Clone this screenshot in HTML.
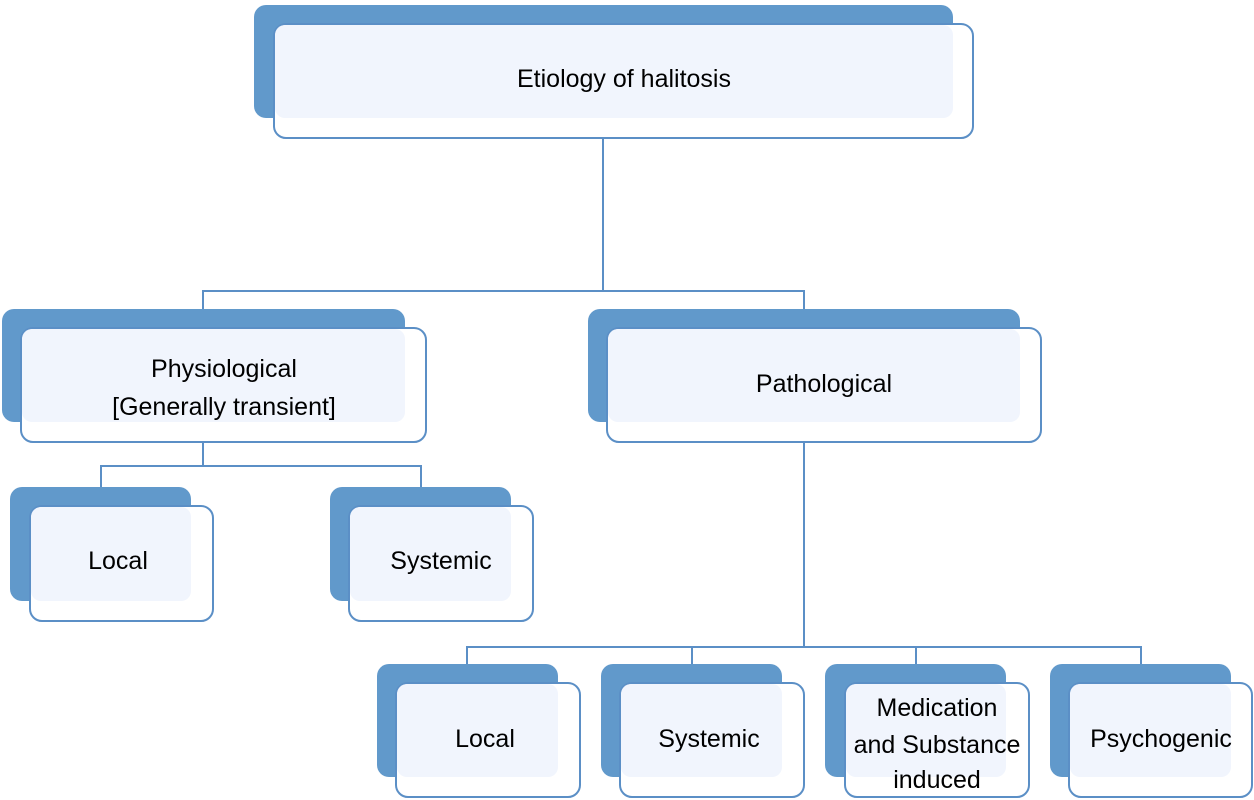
<!DOCTYPE html>
<html><head><meta charset="utf-8"><style>
html,body{margin:0;padding:0;background:#fff;}
svg{display:block;}
text{font-family:"Liberation Sans",sans-serif;font-size:25px;fill:#000;text-anchor:middle;}
</style></head><body>
<svg width="1254" height="800" viewBox="0 0 1254 800" xmlns="http://www.w3.org/2000/svg">
<g stroke="#5b8fc6" stroke-width="2" fill="none">
<path d="M603 138V291M203 309V291H804V309"/>
<path d="M203 442V466M101 487V466H421V487"/>
<path d="M804 442V647M467 664V647H1141V664M692 647V664M916 647V664"/>
</g>
<!-- node helper: dark rect, white front rect, light overlay -->
<g id="n1">
<rect x="254" y="5" width="699" height="113" rx="12" fill="#6199cb"/>
<rect x="274" y="24" width="699" height="114" rx="12" fill="#fff" stroke="#5b8fc6" stroke-width="2"/>
<rect x="275" y="25" width="678" height="93" rx="10" fill="#f1f5fd"/>
<text x="624" y="87">Etiology of halitosis</text>
</g>
<g>
<rect x="2" y="309" width="403" height="113" rx="12" fill="#6199cb"/>
<rect x="21" y="328" width="405" height="114" rx="12" fill="#fff" stroke="#5b8fc6" stroke-width="2"/>
<rect x="22" y="329" width="383" height="93" rx="10" fill="#f1f5fd"/>
<text x="224" y="377">Physiological</text>
<text x="224" y="415">[Generally transient]</text>
</g>
<g>
<rect x="588" y="309" width="432" height="113" rx="12" fill="#6199cb"/>
<rect x="607" y="328" width="434" height="114" rx="12" fill="#fff" stroke="#5b8fc6" stroke-width="2"/>
<rect x="608" y="329" width="412" height="93" rx="10" fill="#f1f5fd"/>
<text x="824" y="392">Pathological</text>
</g>
<g>
<rect x="10" y="487" width="181" height="114" rx="12" fill="#6199cb"/>
<rect x="30" y="506" width="183" height="115" rx="12" fill="#fff" stroke="#5b8fc6" stroke-width="2"/>
<rect x="31" y="507" width="160" height="94" rx="10" fill="#f1f5fd"/>
<text x="118" y="569">Local</text>
</g>
<g>
<rect x="330" y="487" width="181" height="114" rx="12" fill="#6199cb"/>
<rect x="349" y="506" width="184" height="115" rx="12" fill="#fff" stroke="#5b8fc6" stroke-width="2"/>
<rect x="350" y="507" width="161" height="94" rx="10" fill="#f1f5fd"/>
<text x="441" y="569">Systemic</text>
</g>
<g>
<rect x="377" y="664" width="181" height="113" rx="12" fill="#6199cb"/>
<rect x="396" y="683" width="184" height="114" rx="12" fill="#fff" stroke="#5b8fc6" stroke-width="2"/>
<rect x="397" y="684" width="161" height="93" rx="10" fill="#f1f5fd"/>
<text x="485" y="747">Local</text>
</g>
<g>
<rect x="601" y="664" width="181" height="113" rx="12" fill="#6199cb"/>
<rect x="620" y="683" width="184" height="114" rx="12" fill="#fff" stroke="#5b8fc6" stroke-width="2"/>
<rect x="621" y="684" width="161" height="93" rx="10" fill="#f1f5fd"/>
<text x="709" y="747">Systemic</text>
</g>
<g>
<rect x="825" y="664" width="181" height="113" rx="12" fill="#6199cb"/>
<rect x="845" y="683" width="184" height="114" rx="12" fill="#fff" stroke="#5b8fc6" stroke-width="2"/>
<rect x="846" y="684" width="160" height="93" rx="10" fill="#f1f5fd"/>
<text x="937" y="716">Medication</text>
<text x="937" y="753">and Substance</text>
<text x="937" y="788">induced</text>
</g>
<g>
<rect x="1050" y="664" width="181" height="113" rx="12" fill="#6199cb"/>
<rect x="1069" y="683" width="183" height="114" rx="12" fill="#fff" stroke="#5b8fc6" stroke-width="2"/>
<rect x="1070" y="684" width="161" height="93" rx="10" fill="#f1f5fd"/>
<text x="1161" y="747">Psychogenic</text>
</g>
</svg>
</body></html>
